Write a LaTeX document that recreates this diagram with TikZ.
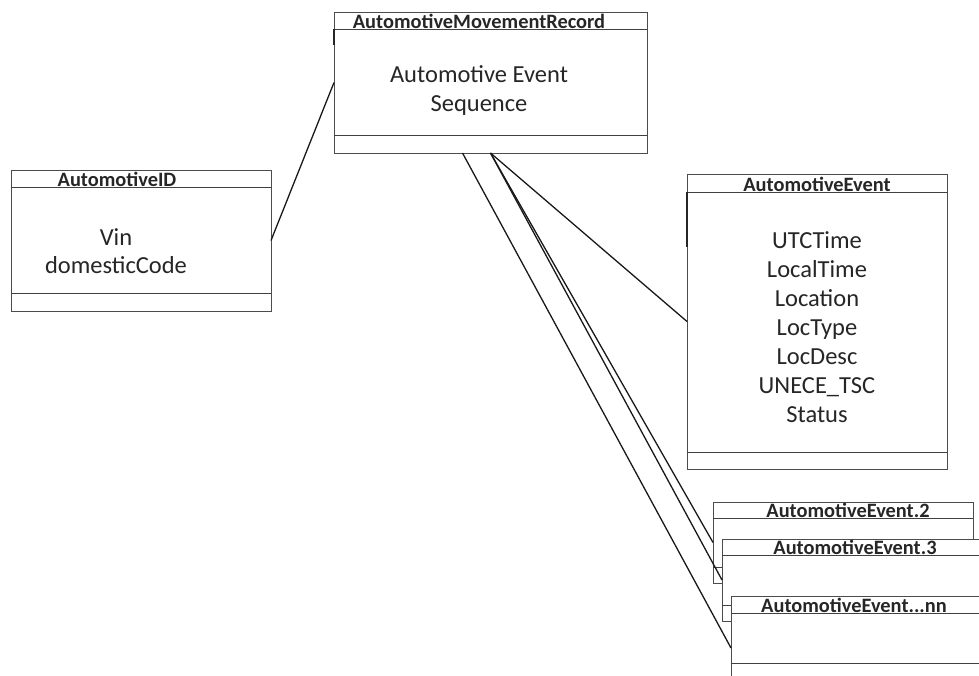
\documentclass[tikz,border=0pt]{standalone}
\usepackage{fontspec}
\setmainfont{Carlito}
\usetikzlibrary{calc}
\tikzset{
  umlbox/.style={rectangle, draw=black!70, line width=0.9pt, fill=white, inner sep=0pt, outer sep=0pt},
  sepline/.style={draw=black!75, line width=0.9pt},
  conn/.style={draw=black!90, line width=1.3pt},
  edgemark/.style={draw=black!85, line width=1.5pt},
  ttl/.style={font=\fontsize{20.4}{23}\selectfont\bfseries, inner sep=0pt, anchor=base, text=black!85},
  bodytxt/.style={font=\fontsize{24.5}{29}\selectfont, inner sep=0pt, anchor=base, text=black!85},
}
% name, left, top, right, bottom, header y, section y
\newcommand\drawumlbox[7]{%
  \node[umlbox, anchor=north west, minimum width={(#4-#2)*1pt}, minimum height={(#5-#3)*1pt}] (#1) at (#2,#3) {};
  \draw[sepline] (#2,#6) -- (#4,#6);
  \draw[sepline] (#2,#7) -- (#4,#7);
}
\begin{document}
\begin{tikzpicture}[x=1pt,y=-1pt]
\useasboundingbox (0,0) rectangle (979,675);

% AutomotiveMovementRecord
\drawumlbox{amr}{334}{12}{647}{153}{29}{135}
\node[ttl] (amrt) at (479,28) {AutomotiveMovementRecord};
\node[bodytxt] (amr1) at (479,82) {Automotive Event};
\node[bodytxt] (amr2) at (479,111) {Sequence};
\draw[edgemark] ($(amr.north west)+(0,17)$) -- ($(amr.north west)+(0,33)$);

% AutomotiveID
\drawumlbox{aid}{11}{170}{271}{311}{187}{293}
\node[ttl] (aidt) at (117,186) {AutomotiveID};
\node[bodytxt] (aid1) at (116,245) {Vin};
\node[bodytxt] (aid2) at (116,273) {domesticCode};

% AutomotiveEvent
\drawumlbox{ae}{687}{174}{947}{469}{192}{452}
\node[ttl] (aet) at (817,191) {AutomotiveEvent};
\foreach \t [count=\i from 0] in {UTCTime,LocalTime,Location,LocType,LocDesc,UNECE\_TSC,Status}
  \node[bodytxt] (ae\i) at (817,248+29*\i) {\t};
\draw[edgemark] ($(ae.north west)+(0,18)$) -- ($(ae.north west)+(0,73)$);

% AutomotiveEvent.2
\drawumlbox{aetwo}{713}{502}{973}{583}{518}{567}
\node[ttl] (aetwot) at (848,517) {AutomotiveEvent.2};

% AutomotiveEvent.3
\drawumlbox{aethree}{722}{539}{995}{621}{555}{605}
\node[ttl] (aethreet) at (855,554) {AutomotiveEvent.3};

% AutomotiveEvent...nn
\drawumlbox{aenn}{731}{596}{995}{700}{613}{663}
\node[ttl] (aennt) at (854,612) {AutomotiveEvent...nn};

% connectors
\draw[conn] (aid.east) -- (amr.west);
\draw[conn] (amr.south) -- (ae.west);
\draw[conn] (amr.south) -- (aetwo.west);
\draw[conn] (amr.south) -- (aethree.west);
\draw[conn] ([xshift=-28pt]amr.south) -- (aenn.west);
\end{tikzpicture}
\end{document}
